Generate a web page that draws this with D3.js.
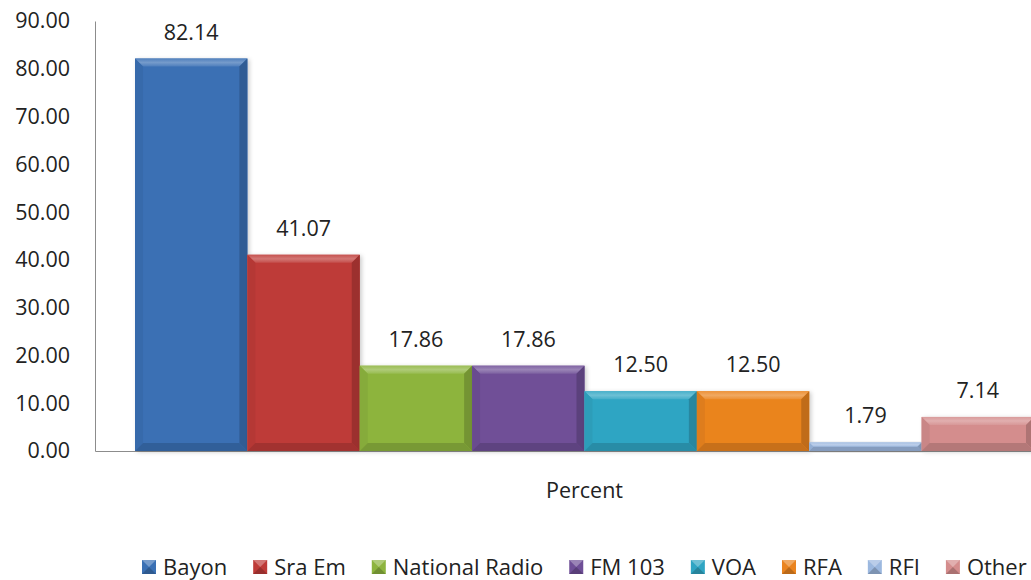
<!DOCTYPE html>
<html><head><meta charset="utf-8">
<script src="https://cdn.jsdelivr.net/npm/d3@7"></script>
<style>
html,body{margin:0;padding:0;background:#fff;overflow:hidden}
svg{display:block}
text{font-family:"Open Sans",Lato,sans-serif;fill:#222}
</style></head>
<body>
<svg id="chart" width="1031" height="580"></svg>
<script>
const categories = ["Percent"];
const seriesNames = ["Bayon","Sra Em","National Radio","FM 103","VOA","RFA","RFI","Other"];
const seriesValues = [82.14, 41.07, 17.86, 17.86, 12.50, 12.50, 1.79, 7.14];
const seriesColors = ["#3a70b4","#be3b38","#8db43e","#6f4f97","#2fa5c3","#ea841f","#9cb8df","#d48d8d"];
const yTicks = [0,10,20,30,40,50,60,70,80,90];

const svg = d3.select("#chart");
const W = 1031, H = 580;
const m = {left:95, top:21, bottom:129};
const plotRight = 1074;
const FONT = "'Open Sans', Lato, sans-serif";
const y = d3.scaleLinear().domain([0,90]).range([H-m.bottom, m.top]);
const x0 = d3.scaleBand().domain(categories).range([m.left, plotRight]).paddingInner(0).paddingOuter(0.0445);
const x1 = d3.scaleBand().domain(seriesNames).range([0, x0.bandwidth()]).padding(0);

const defs = svg.append("defs");
const f = defs.append("filter").attr("id","shadow").attr("x","-10%").attr("y","-10%").attr("width","130%").attr("height","130%");
f.append("feDropShadow").attr("dx",2).attr("dy",1).attr("stdDeviation",2).attr("flood-color","#000").attr("flood-opacity",0.2);

// y axis
const yAxis = d3.axisLeft(y).tickValues(yTicks).tickFormat(d3.format(".2f")).tickSize(0).tickPadding(25);
const gy = svg.append("g").attr("transform",`translate(${m.left},0)`).call(yAxis);
gy.select(".domain").attr("stroke","#8c8c8c");
gy.selectAll("text").style("font-size","21.5px").attr("fill","#222").attr("font-family",FONT);

// x axis baseline
const xAxis = d3.axisBottom(x0).tickSize(0).tickPadding(32);
const gx = svg.append("g").attr("transform",`translate(0,${y(0)})`).call(xAxis);
gx.select(".domain").attr("stroke","#8c8c8c");
gx.selectAll("text").style("font-size","21.5px").attr("fill","#222").attr("font-family",FONT);

// bars
const data = seriesNames.map((n,i)=>({name:n, value:seriesValues[i], color:seriesColors[i]}));
const g = svg.append("g").attr("transform",`translate(${x0(categories[0])},0)`);
const bars = g.selectAll("g.bar").data(data).join("g").attr("class","bar");
bars.each(function(d,i){
  const sel = d3.select(this);
  const bx = x1(d.name), bw = x1.bandwidth();
  const top = y(d.value), bot = y(0), bh = bot - top;
  const c = d3.color(d.color);
  const bv = Math.min(8, bh/2);
  sel.append("rect").attr("x",bx).attr("y",top).attr("width",bw).attr("height",bh)
     .attr("fill",c.formatHex()).attr("filter","url(#shadow)");
  const gradT = defs.append("linearGradient").attr("id","gt"+i).attr("x1",0).attr("y1",0).attr("x2",0).attr("y2",1);
  gradT.append("stop").attr("offset","0%").attr("stop-color",d3.interpolateRgb(c,"#fff")(0.12));
  gradT.append("stop").attr("offset","50%").attr("stop-color",d3.interpolateRgb(c,"#fff")(0.3));
  gradT.append("stop").attr("offset","100%").attr("stop-color",d3.interpolateRgb(c,"#fff")(0.1));
  sel.append("polygon").attr("points",[[bx,top],[bx+bw,top],[bx+bw-bv,top+bv],[bx+bv,top+bv]].map(p=>p.join(",")).join(" "))
     .attr("fill",`url(#gt${i})`);
  sel.append("polygon").attr("points",[[bx+bw,top],[bx+bw,bot],[bx+bw-bv,bot-bv],[bx+bw-bv,top+bv]].map(p=>p.join(",")).join(" "))
     .attr("fill",d3.interpolateRgb(c,"#000")(0.18));
  sel.append("polygon").attr("points",[[bx,top],[bx,bot],[bx+bv,bot-bv],[bx+bv,top+bv]].map(p=>p.join(",")).join(" "))
     .attr("fill",d3.interpolateRgb(c,"#000")(0.05));
  sel.append("polygon").attr("points",[[bx,bot],[bx+bw,bot],[bx+bw-bv,bot-bv],[bx+bv,bot-bv]].map(p=>p.join(",")).join(" "))
     .attr("fill",d3.interpolateRgb(c,"#000")(0.15));
  sel.append("text").attr("x",bx+bw/2).attr("y",top-19).attr("text-anchor","middle")
     .style("font-size","21.5px").attr("font-family",FONT).text(d3.format(".2f")(d.value));
});

// legend
const lg = svg.append("g");
let lx = 142;
const ly = 567;
data.forEach(d=>{
  const c = d3.color(d.color);
  const s = 14;
  const it = lg.append("g");
  it.append("rect").attr("x",lx).attr("y",ly-s/2).attr("width",s).attr("height",s).attr("fill",d.color);
  it.append("polygon").attr("points",[[lx,ly-s/2],[lx+s,ly-s/2],[lx+s/2,ly]].map(p=>p.join(",")).join(" "))
    .attr("fill",d3.interpolateRgb(c,"#fff")(0.3));
  it.append("polygon").attr("points",[[lx,ly+s/2],[lx+s,ly+s/2],[lx+s/2,ly]].map(p=>p.join(",")).join(" "))
    .attr("fill",d3.interpolateRgb(c,"#000")(0.2));
  const t = it.append("text").attr("x",lx+21).attr("y",ly).attr("dy","0.35em").style("font-size","22px").attr("font-family",FONT).text(d.name);
  lx = lx + 21 + t.node().getComputedTextLength() + 26;
});
</script>
</body></html>
